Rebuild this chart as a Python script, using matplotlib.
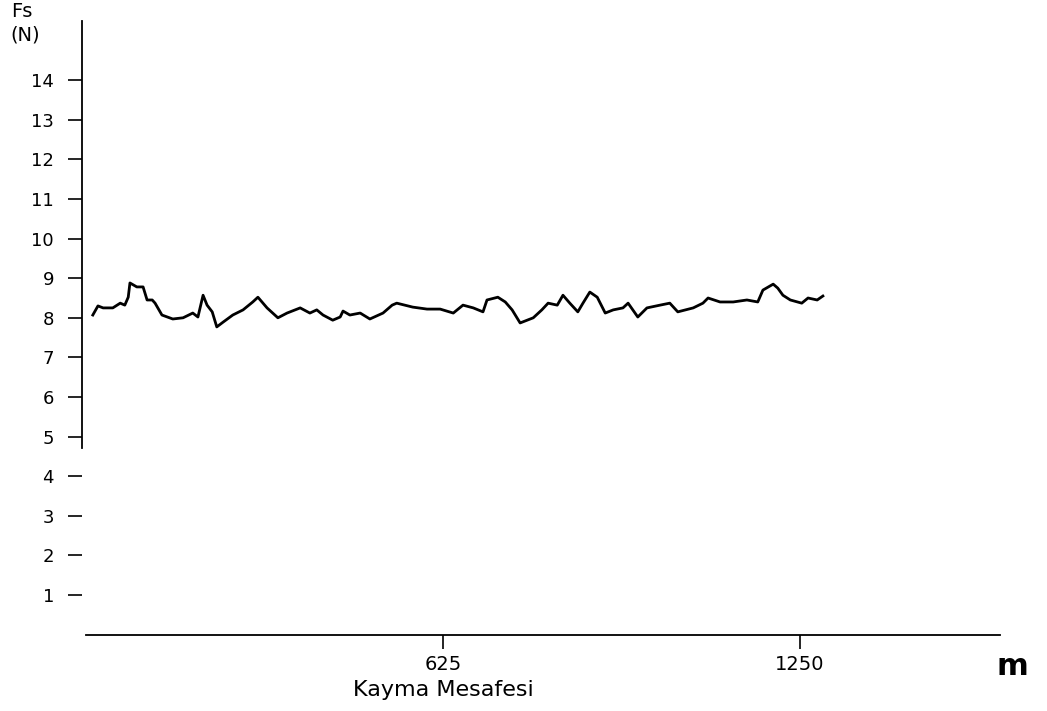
import matplotlib
matplotlib.use("Agg")
import matplotlib.pyplot as plt

# sliding distance (m) and friction force Fs (N)
distance = [12, 21, 30, 47, 60, 68, 74, 77, 89, 100, 107, 116, 121, 133, 152,
            170, 187, 196, 205, 212, 221, 229, 240, 257, 275, 292, 301, 317,
            336, 352, 375, 392, 404, 415, 432, 445, 450, 462, 480, 497, 520,
            536, 544, 572, 597, 620, 643, 660, 678, 695, 702, 721, 734, 746,
            760, 783, 798, 809, 825, 835, 847, 861, 870, 882, 895, 909, 923,
            940, 949, 966, 982, 1005, 1022, 1036, 1063, 1080, 1089, 1110, 1133,
            1157, 1176, 1185, 1203, 1211, 1220, 1233, 1253, 1264, 1280, 1290]
force = [8.07, 8.30, 8.25, 8.25, 8.37, 8.32, 8.52, 8.88, 8.78, 8.78, 8.45,
         8.45, 8.37, 8.07, 7.97, 8.00, 8.12, 8.02, 8.57, 8.32, 8.15, 7.77,
         7.89, 8.07, 8.20, 8.40, 8.52, 8.25, 8.00, 8.12, 8.25, 8.12, 8.20,
         8.07, 7.94, 8.02, 8.17, 8.07, 8.12, 7.97, 8.12, 8.32, 8.37, 8.27,
         8.22, 8.22, 8.12, 8.32, 8.25, 8.15, 8.45, 8.52, 8.40, 8.20, 7.87,
         8.00, 8.20, 8.37, 8.32, 8.57, 8.37, 8.15, 8.37, 8.65, 8.52, 8.12,
         8.20, 8.25, 8.37, 8.02, 8.25, 8.32, 8.37, 8.15, 8.25, 8.37, 8.50,
         8.40, 8.40, 8.45, 8.40, 8.70, 8.85, 8.75, 8.57, 8.45, 8.37, 8.50,
         8.45, 8.55]

y_ticks = list(range(1, 15))
x_ticks = [625, 1250]

plt.rcParams["font.family"] = ["DejaVu Sans"]

fig = plt.figure(figsize=(10.47, 7.11), dpi=100)
ax = fig.add_axes([0.0821, 0.1075, 0.873, 0.8632])

ax.plot(distance, force, color="black", linewidth=2.0)

ax.set_xlim(0, 1600)
ax.set_ylim(0, 15.5)

for side in ("top", "right"):
    ax.spines[side].set_visible(False)
ax.spines["left"].set_position(("outward", 3))
ax.spines["left"].set_bounds(4.7, 15.5)
ax.spines["left"].set_linewidth(1.3)
ax.spines["bottom"].set_linewidth(1.3)

ax.set_yticks(y_ticks)
ax.set_yticklabels([str(v) for v in y_ticks], fontsize=13)
ax.tick_params(axis="y", direction="out", length=10, width=1.2, pad=10)

ax.set_xticks(x_ticks)
ax.set_xticklabels([str(v) for v in x_ticks], fontsize=14)
ax.tick_params(axis="x", direction="out", length=10, width=1.2, pad=5)

ax.text(625, -1.4, "Kayma Mesafesi", ha="center", va="center", fontsize=16,
        transform=ax.transData, clip_on=False)
fig.text(0.9666, 0.062, "m", ha="center", va="center", fontsize=22,
         fontweight="bold")
fig.text(0.011, 0.984, "Fs", ha="left", va="center", fontsize=14)
fig.text(0.010, 0.951, "(N)", ha="left", va="center", fontsize=14)

fig.savefig("out.png", dpi=100)
